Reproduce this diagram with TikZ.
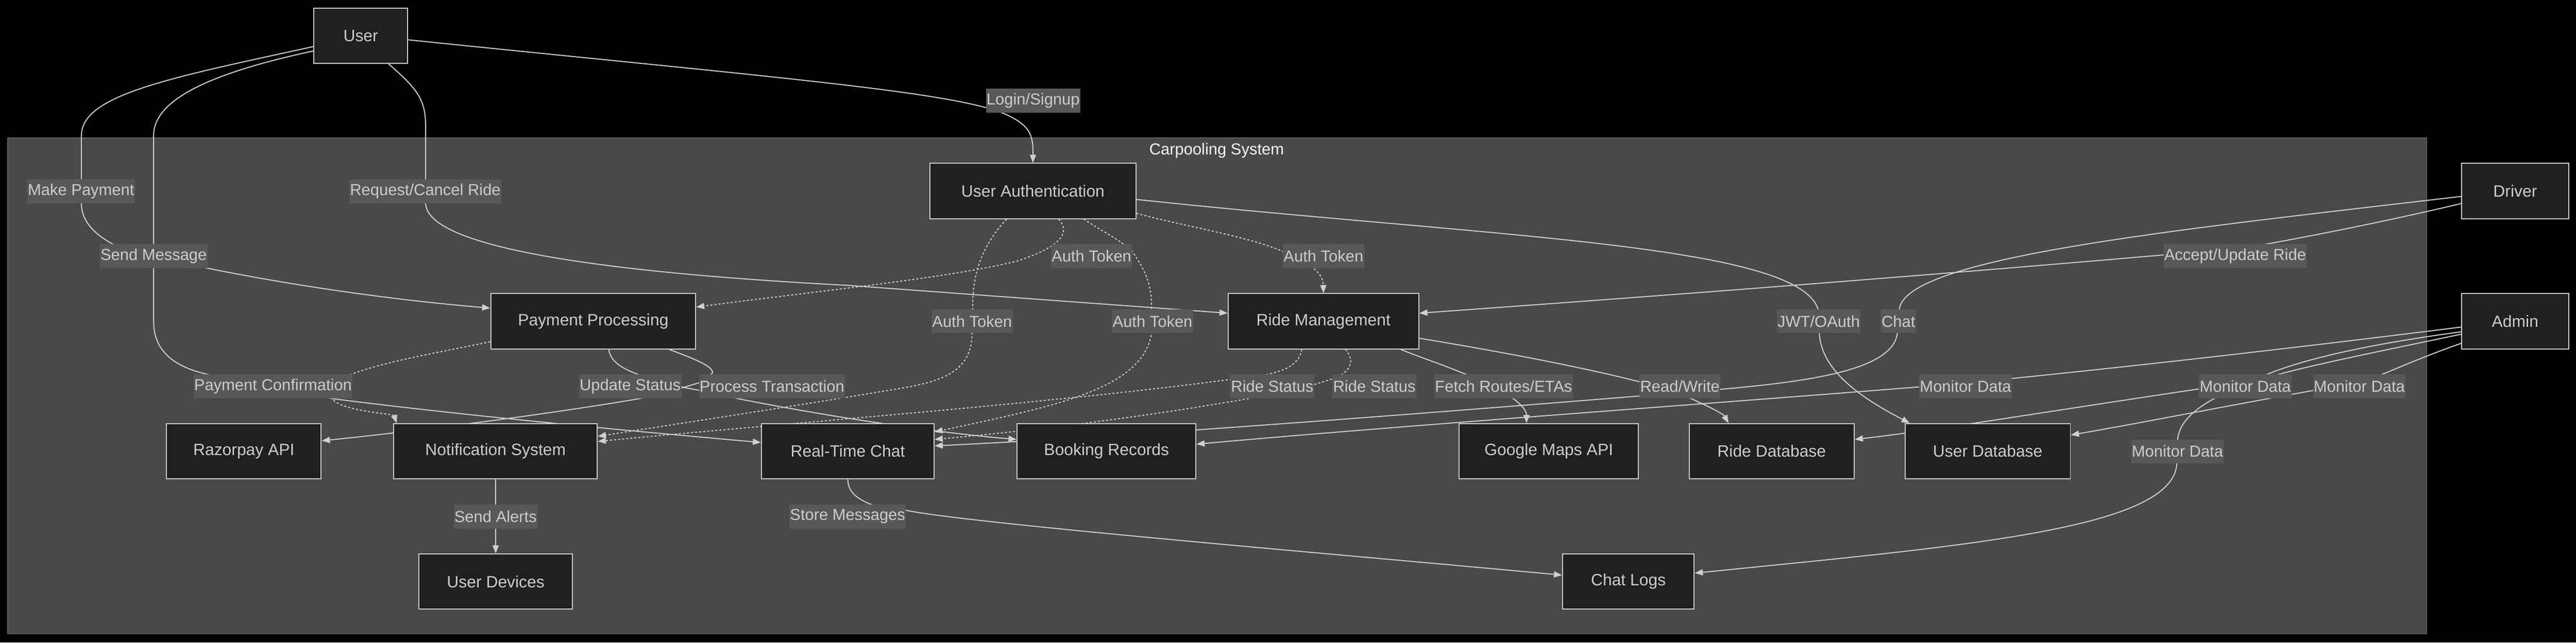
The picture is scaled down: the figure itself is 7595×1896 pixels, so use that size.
\documentclass[tikz,border=0pt]{standalone}
\usepackage{fontspec}
\setmainfont{Liberation Sans}
\usetikzlibrary{arrows.meta,calc}
\definecolor{clusterfill}{HTML}{484A49}
\definecolor{clusterline}{HTML}{606060}
\definecolor{nodefill}{HTML}{1F2020}
\definecolor{nodeline}{HTML}{CCCCCC}
\definecolor{textgray}{HTML}{CCCCCC}
\definecolor{lblfill}{HTML}{585858}
\definecolor{edgecol}{HTML}{D0D0D0}
\definecolor{titlecol}{HTML}{F5F5F5}
\pgfdeclarelayer{bg}
\pgfdeclarelayer{edges}
\pgfsetlayers{bg,edges,main}
\tikzset{
  box/.style={draw=nodeline, fill=nodefill, line width=1.5pt, minimum height=81.5pt, inner sep=0pt, text=textgray, font=\fontsize{24.2}{28}\selectfont},
  lbl/.style={fill=lblfill, inner xsep=1pt, inner ysep=0pt, minimum height=35.5pt, text=textgray, font=\fontsize{23.5}{28}\selectfont},
  conn/.style={draw=edgecol, line width=1.5pt, -{Triangle[length=12pt,width=9pt]}},
  dconn/.style={conn, dash pattern=on 3pt off 3pt},
}
\begin{document}
\begin{tikzpicture}[x=0.5pt,y=-0.5pt]
\useasboundingbox (0,0) rectangle (7595,1896);
\begin{pgfonlayer}{bg}
  \fill[black] (0,0) rectangle (7595,1896);
  \filldraw[fill=clusterfill, draw=clusterline, line width=1pt] (23,407) rectangle (7155,1871);
\end{pgfonlayer}
\node[text=titlecol, font=\fontsize{23.5}{28}\selectfont] (title) at (3587,445) {Carpooling System};
% nodes
\node[box, minimum width=138.5pt] (user) at (1063.5,105.5) {User};
\node[box, minimum width=303.5pt] (ua) at (3045.5,563.5) {User Authentication};
\node[box, minimum width=157.5pt] (driver) at (7415.5,563.5) {Driver};
\node[box, minimum width=302pt] (pp) at (1749,948) {Payment Processing};
\node[box, minimum width=281pt] (rm) at (3902,948) {Ride Management};
\node[box, minimum width=157.5pt] (admin) at (7415.5,948) {Admin};
\node[box, minimum width=228pt] (razor) at (719,1331.5) {Razorpay API};
\node[box, minimum width=300pt] (ns) at (1461,1331.5) {Notification System};
\node[box, minimum width=254.5pt] (rtc) at (2499.5,1331.5) {Real-Time Chat};
\node[box, minimum width=263.5pt] (br) at (3262.5,1331.5) {Booking Records};
\node[box, minimum width=264.5pt] (gmaps) at (4566.5,1331.5) {Google Maps API};
\node[box, minimum width=243.5pt] (ridedb) at (5223.5,1331.5) {Ride Database};
\node[box, minimum width=243.5pt] (userdb) at (5860.5,1331.5) {User Database};
\node[box, minimum width=226.5pt] (devices) at (1461.5,1716) {User Devices};
\node[box, minimum width=194pt] (chatlogs) at (4801,1716) {Chat Logs};
% labels
\node[lbl] (lLogin) at (3046,297) {Login/Signup};
\node[lbl] (lPay) at (239,564) {Make Payment};
\node[lbl] (lReq) at (1254,564) {Request/Cancel Ride};
\node[lbl] (lMsg) at (453,756) {Send Message};
\node[lbl] (lAuthA) at (3218,756) {Auth Token};
\node[lbl] (lAuthB) at (3902,756) {Auth Token};
\node[lbl] (lAcc) at (6590,756) {Accept/Update Ride};
\node[lbl] (lAuthC) at (2866,948) {Auth Token};
\node[lbl] (lAuthD) at (3398,948) {Auth Token};
\node[lbl] (lJwt) at (5362,948) {JWT/OAuth};
\node[lbl] (lChat) at (5597,948) {Chat};
\node[lbl] (lConf) at (805,1140) {Payment Confirmation};
\node[lbl] (lUpd) at (1858,1140) {Update Status};
\node[lbl] (lProc) at (2276,1140) {Process Transaction};
\node[lbl] (lRsE) at (3751,1140) {Ride Status};
\node[lbl] (lRsF) at (4052,1140) {Ride Status};
\node[lbl] (lFetch) at (4433,1140) {Fetch Routes/ETAs};
\node[lbl] (lRW) at (4953,1140) {Read/Write};
\node[lbl] (lMonG) at (5795,1140) {Monitor Data};
\node[lbl] (lMonH) at (6620,1140) {Monitor Data};
\node[lbl] (lMonI) at (6956,1140) {Monitor Data};
\node[lbl] (lAlert) at (1461,1524) {Send Alerts};
\node[lbl] (lStore) at (2499,1524) {Store Messages};
\node[lbl] (lMonJ) at (6420,1332) {Monitor Data};
% edges
\begin{pgfonlayer}{edges}
\draw[conn] ($(user.east)+(0,12)$) .. controls (2300,230) and (2800,270) .. (2960,335) .. controls (3040,370) and (3046,400) .. (ua.north);
\draw[conn] ($(user.west)+(0,32)$) .. controls (500,230) and (240,280) .. (240,400) -- (240,600) .. controls (240,660) and (290,710) .. (400,750) -- (600,789) .. controls (800,830) and (1100,880) .. ($(pp.west)+(0,-39)$);
\draw[conn] ($(user.west)+(0,45)$) .. controls (600,220) and (453,300) .. (453,400) -- (453,950) .. controls (453,1040) and (520,1090) .. (640,1110) -- (978,1176) .. controls (1400,1230) and (1900,1275) .. ($(rtc.west)+(0,-26)$);
\draw[conn] ($(user.south)+(82,0)$) .. controls (1240,270) and (1255,300) .. (1255,380) -- (1255,600) .. controls (1258,720) and (1700,800) .. (2500,842) -- ($(rm.west)+(0,-24)$);
\draw[dconn] ($(ua.south)+(76,0)$) .. controls (3160,690) and (3120,730) .. (3000,770) .. controls (2800,820) and (2400,860) .. ($(pp.east)+(0,-42)$);
\draw[dconn] ($(ua.east)+(0,66)$) .. controls (3500,670) and (3700,700) .. (3800,750) .. controls (3890,790) and (3901,820) .. (rm.north);
\draw[dconn] ($(ua.south)+(-78,0)$) .. controls (2900,720) and (2868,800) .. (2868,900) -- (2866,990) .. controls (2860,1110) and (2760,1130) .. (2600,1155) .. controls (2300,1205) and (2000,1250) .. ($(ns.east)+(0,-44)$);
\draw[dconn] ($(ua.south)+(150,0)$) .. controls (3260,690) and (3330,720) .. (3350,760) .. controls (3390,820) and (3395,860) .. (3395,912) -- (3395,983) .. controls (3370,1150) and (3100,1200) .. ($(rtc.east)+(0,-57)$);
\draw[conn] ($(ua.east)+(0,25)$) .. controls (4400,700) and (5300,720) .. (5360,912) -- (5364,983) .. controls (5370,1100) and (5500,1180) .. ($(userdb.north)+(-230,0)$);
\draw[conn] ($(driver.west)+(0,37)$) .. controls (7050,650) and (6800,700) .. (6600,735) -- (6380,752) .. controls (5600,820) and (4800,880) .. ($(rm.east)+(0,-24)$);
\draw[conn] ($(driver.west)+(0,16)$) .. controls (6400,680) and (5620,760) .. (5600,912) -- (5594,983) .. controls (5580,1100) and (5300,1130) .. (5000,1155) .. controls (4200,1220) and (3300,1290) .. ($(rtc.east)+(0,-16)$);
\draw[conn] ($(admin.west)+(0,17)$) .. controls (6500,1060) and (6000,1110) .. (5800,1130) .. controls (5200,1180) and (4200,1250) .. ($(br.east)+(0,-21)$);
\draw[conn] ($(admin.west)+(0,38)$) .. controls (7000,1040) and (6800,1080) .. (6700,1110) -- (6480,1148) .. controls (6000,1220) and (5700,1270) .. ($(ridedb.east)+(0,-35)$);
\draw[conn] ($(admin.west)+(0,31)$) .. controls (6950,1020) and (6750,1070) .. (6650,1120) .. controls (6500,1180) and (6425,1230) .. (6420,1300) -- (6418,1367) .. controls (6410,1560) and (5800,1610) .. ($(chatlogs.east)+(0,-25)$);
\draw[conn] ($(admin.west)+(0,65)$) .. controls (7150,1050) and (7060,1090) .. (7010,1110) -- (6815,1153) .. controls (6500,1210) and (6300,1250) .. ($(userdb.east)+(0,-48)$);
\draw[dconn] ($(rm.south)+(-64,0)$) .. controls (3830,1080) and (3780,1100) .. (3700,1110) -- (3632,1119) .. controls (3100,1190) and (2300,1250) .. ($(ns.east)+(0,-29)$);
\draw[dconn] ($(rm.south)+(65,0)$) .. controls (4000,1070) and (3975,1100) .. (3932,1117) -- (3873,1135) -- (3682,1176) .. controls (3400,1225) and (3100,1265) .. ($(rtc.east)+(0,-35)$);
\draw[conn] ($(rm.south)+(228,0)$) .. controls (4200,1060) and (4300,1090) .. (4400,1140) .. controls (4480,1180) and (4501,1210) .. ($(gmaps.north)+(-66,0)$);
\draw[conn] ($(rm.east)+(0,50)$) .. controls (4500,1050) and (4800,1110) .. (4950,1160) .. controls (5040,1200) and (5080,1220) .. ($(ridedb.north)+(-127,0)$);
\draw[dconn] ($(pp.west)+(0,60)$) .. controls (1300,1040) and (1100,1070) .. (1000,1120) -- (978,1176) .. controls (1010,1215) and (1160,1220) .. ($(ns.north west)+(10,0)$);
\draw[conn] ($(pp.south)+(46,0)$) .. controls (1800,1070) and (1840,1090) .. (1890,1108) -- (2015,1143) -- (2069,1153) -- (2174,1176) .. controls (2500,1240) and (2800,1280) .. ($(br.west)+(0,-35)$);
\draw[conn] ($(pp.south)+(224,0)$) .. controls (2050,1060) and (2101,1080) .. (2101,1100) -- (2069,1127) -- (2015,1143) -- (1887,1176) .. controls (1600,1225) and (1200,1275) .. ($(razor.east)+(0,-31)$);
\draw[conn] (ns.south) -- (devices.north);
\draw[conn] (rtc.south) .. controls (2500,1460) and (2540,1480) .. (2600,1500) -- (2660,1503) .. controls (2800,1540) and (4000,1640) .. ($(chatlogs.west)+(0,-19)$);
\end{pgfonlayer}
\end{tikzpicture}
\end{document}
